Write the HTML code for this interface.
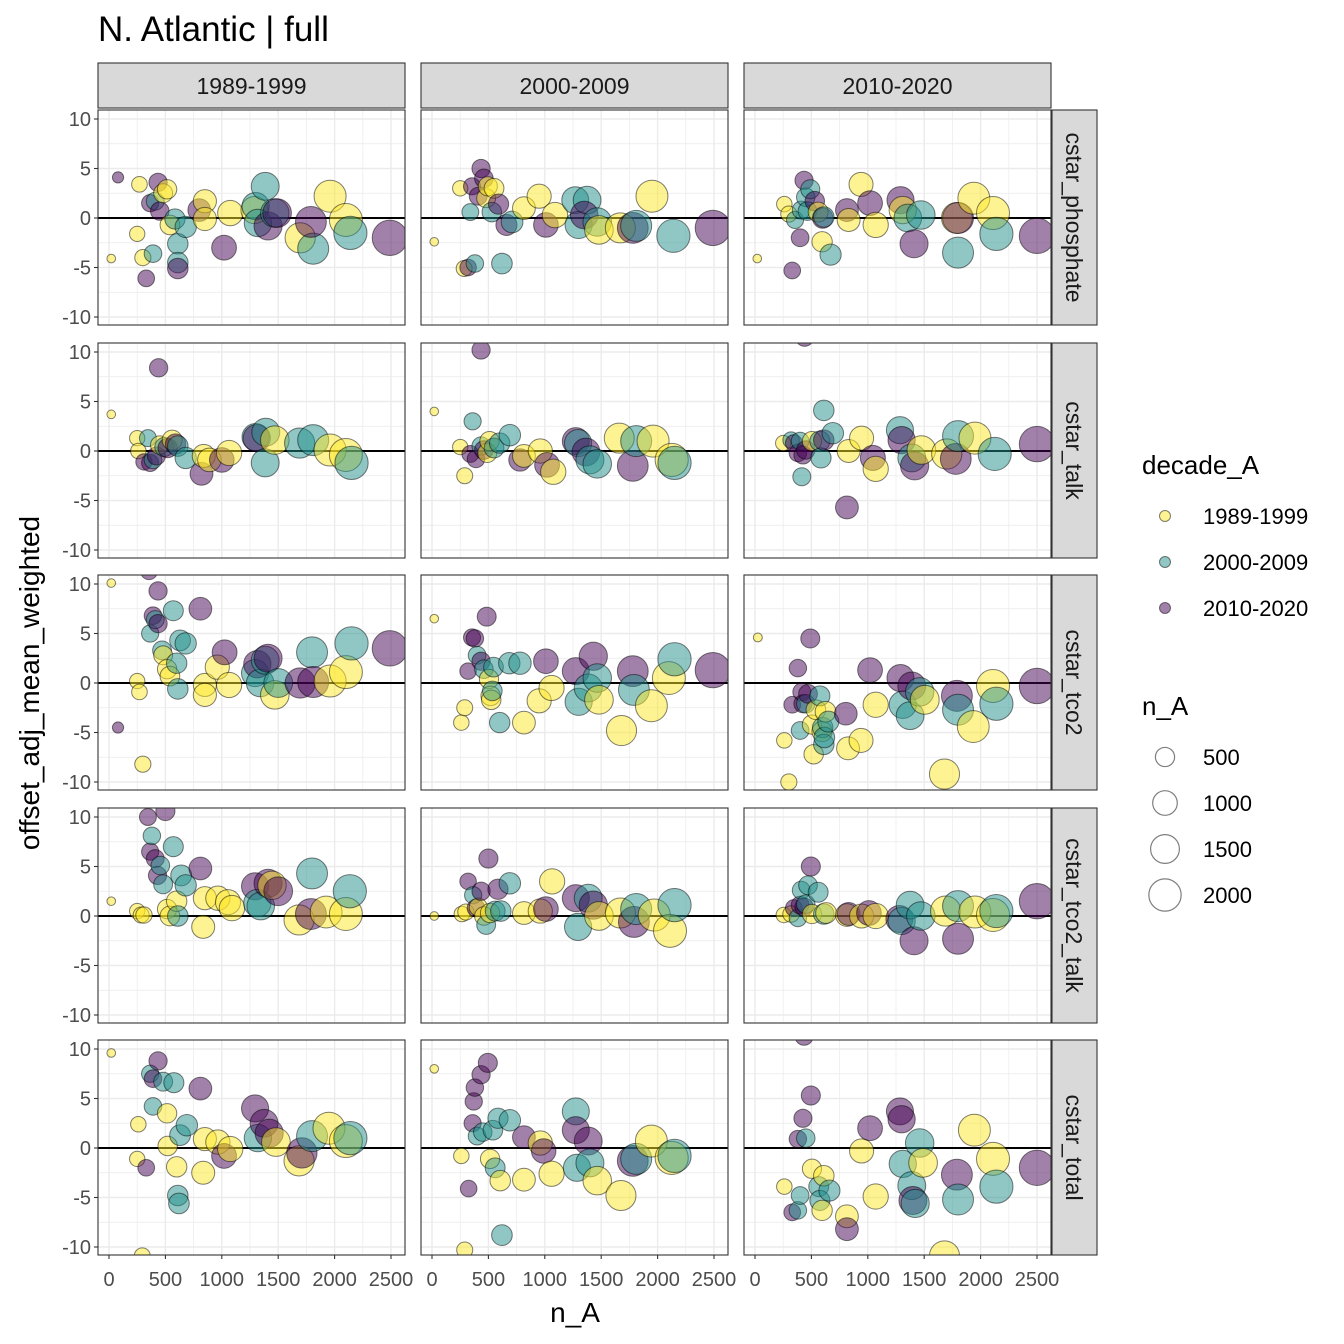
<!DOCTYPE html>
<html><head><meta charset="utf-8">
<style>
body{margin:0;background:#fff;}
svg{display:block;font-family:"Liberation Sans",Arial,sans-serif;}
</style></head>
<body>
<svg id="chart" width="1344" height="1344" viewBox="0 0 1344 1344" xmlns="http://www.w3.org/2000/svg">
<text x="98" y="41" font-size="35" fill="#000">N. Atlantic | full</text>
<text transform="translate(39,683) rotate(-90)" text-anchor="middle" font-size="28" fill="#000">offset_adj_mean_weighted</text>
<text x="575" y="1322" text-anchor="middle" font-size="28" fill="#000">n_A</text>
<g id="panels"></g>
<g id="legend">
<text x="1142" y="474" font-size="26" fill="#000">decade_A</text>
<text x="1142" y="715" font-size="26" fill="#000">n_A</text>
</g>
</svg>
<script>
const decades = ["1989-1999","2000-2009","2010-2020"];
const colors = ["#FDE725","#21908C","#440154"];
const colLabels = ["1989-1999","2000-2009","2010-2020"];
const rowLabels = ["cstar_phosphate","cstar_talk","cstar_tco2","cstar_tco2_talk","cstar_total"];
const xTicks = [0,500,1000,1500,2000,2500];
const yTicks = [-10,-5,0,5,10];
const sizeLegend = [500,1000,1500,2000];

const p11=[[20,-4.1,0],[80,4.1,2],[250,-1.6,0],[270,3.4,0],[300,-4,0],[330,-6.1,2],[365,1.5,2],[390,-3.6,1],[410,1.7,1],[435,3.6,2],[450,0.7,2],[480,2.5,0],[515,2.9,0],[540,-0.7,0],[585,-0.1,1],[610,-2.6,1],[610,-4.5,1],[610,-5.1,2],[680,-0.9,1],[800,0.8,2],[850,1.7,0],[850,-0.1,0],[1020,-3,2],[1075,0.5,0],[1290,0.8,0],[1300,1.2,1],[1320,-0.5,1],[1385,3.2,1],[1410,-0.8,2],[1470,0.5,1],[1490,0.5,2],[1695,-2,0],[1810,-3.1,1],[1790,-0.4,2],[1960,2.2,0],[2100,-0.2,0],[2140,-1.5,1],[2490,-2,2]];
const p12=[[20,-2.4,0],[250,3,0],[285,-5.1,0],[320,-5,2],[380,-4.6,1],[355,3.2,2],[340,0.6,1],[410,2.2,2],[435,5,2],[460,4,2],[480,2,0],[495,3.2,0],[530,0.6,1],[550,3,0],[590,1.4,2],[620,-4.6,1],[660,-0.7,2],[710,-0.4,1],[815,1,0],[950,2.2,0],[1010,-0.7,2],[1090,0.3,0],[1270,1.8,1],[1300,-0.7,1],[1375,1.8,1],[1350,0.3,2],[1465,-0.4,1],[1480,-1.2,0],[1670,-1,0],[1780,-1,2],[1810,-0.8,1],[1950,2.2,0],[2140,-1.8,1],[2490,-1,2]];
const p13=[[20,-4.1,0],[260,1.4,0],[300,0.4,0],[330,-5.3,2],[355,-0.2,1],[400,-2,2],[410,0.8,1],[435,3.8,2],[450,2.1,1],[465,0.7,1],[490,2.9,1],[530,1.7,2],[560,0.6,0],[600,0,2],[610,0.1,1],[595,-2.4,0],[670,-3.7,1],[815,0.8,2],[830,-0.2,0],[940,3.4,0],[1020,1.5,2],[1070,-0.7,0],[1290,1.8,2],[1310,0.8,0],[1355,0,1],[1410,-2.6,2],[1470,0.3,1],[1790,0,0],[1800,0,2],[1800,-3.5,1],[1940,2,0],[2110,0.5,0],[2140,-1.6,1],[2500,-1.8,2]];
const p21=[[20,3.7,0],[250,1.3,0],[260,0,0],[310,-1.1,2],[345,1.3,1],[365,-1.2,2],[390,-0.9,1],[420,-0.5,2],[440,8.4,2],[450,0.6,0],[490,0.4,1],[520,0.3,2],[560,1.1,0],[590,0.7,2],[610,0.5,1],[680,-0.7,1],[820,-2.3,2],[840,-0.5,0],[890,-0.9,0],[1000,-0.9,2],[1065,-0.2,0],[1300,1.4,1],[1310,1.3,2],[1385,-1.2,1],[1390,1.9,1],[1470,1.1,0],[1690,0.8,1],[1810,1.1,1],[1960,0.1,0],[2100,-0.4,0],[2150,-1.2,1]];
const p22=[[20,4,0],[250,0.4,0],[290,-2.5,0],[340,-0.3,2],[360,3,1],[390,-0.8,2],[435,10.2,2],[435,0.5,1],[460,0.1,2],[490,-0.2,0],[510,1,0],[550,0.3,1],[600,0.8,1],[690,1.6,1],[780,-0.9,2],[815,-0.5,0],[960,0,0],[1020,-1.4,2],[1075,-2.1,0],[1275,1,2],[1295,0.8,1],[1365,-0.1,2],[1400,-0.9,1],[1465,-1.3,1],[1660,1.3,0],[1780,-1.5,2],[1810,1,1],[1960,1,0],[2125,-0.9,0],[2150,-1.2,1]];
const p23=[[250,0.8,0],[320,1.1,1],[345,0.8,2],[380,-0.2,2],[400,1,1],[415,-2.6,1],[425,-0.4,2],[440,11.5,2],[450,0.1,2],[505,1,0],[575,1,1],[585,-0.7,1],[610,4.1,1],[610,1.1,2],[690,1.8,1],[815,-5.7,2],[830,0,0],[945,1.3,0],[1045,-0.7,2],[1070,-1.8,0],[1285,2.1,1],[1300,1.1,2],[1390,-0.7,1],[1415,-1.5,2],[1475,0.1,0],[1700,-0.3,0],[1780,-0.8,2],[1800,1.5,1],[1950,1.3,0],[2125,-0.3,1],[2500,0.7,2]];
const p31=[[20,10.1,0],[80,-4.5,2],[250,0.2,0],[270,-0.9,0],[300,-8.2,0],[355,11.3,2],[365,5,1],[390,6.8,2],[410,6.4,1],[435,9.3,2],[435,6,2],[470,3.3,1],[480,2.8,0],[515,1.4,0],[540,0.7,0],[570,7.3,1],[600,2,1],[610,-0.6,1],[630,4.3,1],[680,4,1],[810,7.5,2],[850,-0.2,0],[850,-1.2,0],[960,1.6,0],[1025,3.1,2],[1065,-0.2,0],[1295,1,1],[1315,1.9,2],[1340,0,1],[1385,2.3,1],[1410,2.5,2],[1470,-1.2,0],[1500,0,1],[1695,0,2],[1800,3.1,1],[1810,0.1,2],[1960,0.2,0],[2100,1.1,0],[2150,4,1],[2490,3.5,2]];
const p32=[[20,6.5,0],[260,-4,0],[290,-2.5,0],[320,1.2,2],[355,4.6,2],[380,4.5,2],[400,2.8,1],[435,2.2,2],[460,1.4,1],[485,6.7,2],[505,0.4,0],[520,-1.3,0],[525,-1.7,0],[535,-0.8,1],[545,1.6,1],[600,-4,1],[685,2,1],[780,2,1],[815,-4,0],[950,-1.8,0],[1010,2.2,2],[1060,-0.5,0],[1275,1.2,2],[1300,-1.9,1],[1385,-0.5,1],[1430,2.7,2],[1465,0.5,1],[1480,-1.7,0],[1680,-4.8,0],[1780,1.2,2],[1790,-0.7,1],[1945,-2.3,0],[2100,0.5,0],[2150,2.4,1],[2490,1.3,2]];
const p33=[[25,4.6,0],[260,-5.8,0],[300,-10,0],[330,-2.2,2],[380,1.5,2],[400,-4.8,1],[415,-0.9,2],[425,-2.1,2],[450,-2.1,1],[470,-1.1,2],[490,4.5,2],[505,-4.2,0],[520,-7.2,0],[540,-2.7,0],[575,-1.3,1],[595,-4.9,0],[600,-4.5,1],[610,-6.2,1],[615,-5.5,1],[625,-2.9,0],[650,-3.9,1],[805,-3.1,2],[825,-6.6,0],[940,-5.8,0],[1020,1.3,2],[1070,-2.2,0],[1290,0.5,2],[1310,-2.2,1],[1375,-3.3,1],[1390,-0.3,2],[1460,-0.9,1],[1505,-1.7,0],[1680,-9.2,0],[1790,-1.3,2],[1800,-2.7,1],[1935,-4.4,0],[2110,-0.3,0],[2140,-2.1,1],[2500,-0.3,2]];
const p41=[[20,1.5,0],[250,0.5,0],[285,0.1,0],[310,0.1,0],[345,10,2],[365,6.5,2],[380,8.1,1],[410,5.8,2],[430,4.1,2],[455,5.1,1],[480,3.2,1],[500,10.6,2],[515,0.7,0],[540,0,0],[570,7,1],[600,1.5,0],[610,0,1],[640,4.1,1],[680,3.1,1],[810,4.8,2],[835,-1.1,0],[850,1.8,0],[965,1.8,0],[1055,1.4,0],[1090,0.8,0],[1295,3,2],[1315,1.3,1],[1345,1,1],[1410,3.3,2],[1445,3.1,0],[1500,2.5,2],[1685,-0.4,0],[1800,4.3,1],[1790,0.2,2],[1925,0.4,0],[2100,0.2,0],[2135,2.5,1]];
const p42=[[20,0,0],[265,0.2,0],[300,0.4,0],[320,3.5,2],[365,2.1,1],[390,0.8,2],[410,0.9,0],[435,2.5,2],[460,0,0],[480,-0.9,1],[500,5.8,2],[515,0.3,0],[560,0.5,1],[585,2.7,2],[610,0.5,1],[690,3.3,1],[815,0.3,0],[960,0.5,0],[1010,0.7,2],[1065,3.5,0],[1275,1.8,2],[1295,-1.1,1],[1385,1.8,1],[1430,1.1,2],[1480,0,0],[1670,0.3,0],[1790,-0.6,2],[1810,0.7,1],[1970,0.1,0],[2110,-1.5,0],[2150,1.1,1]];
const p43=[[255,0.1,0],[320,0.2,0],[345,0.8,2],[380,-0.2,1],[400,1.1,2],[410,2.6,1],[435,0.9,2],[450,1.2,1],[470,3.1,1],[495,5,2],[505,0.2,0],[560,2.4,1],[610,0.2,1],[630,0.3,0],[815,0.1,0],[830,0.2,2],[945,0,0],[1010,0.3,2],[1070,0,0],[1280,-0.3,2],[1300,-0.5,1],[1375,1.1,1],[1410,-2.5,2],[1470,0,1],[1690,0.5,0],[1800,-2.3,2],[1800,1,1],[1950,0.4,0],[2110,0.1,0],[2140,0.5,1],[2500,1.5,2]];
const p51=[[20,9.6,0],[250,-1.1,0],[260,2.4,0],[295,-10.9,0],[330,-2,2],[365,7.5,1],[390,4.2,1],[390,7,2],[435,8.8,2],[480,6.7,1],[515,3.5,0],[520,0.2,0],[575,6.6,1],[600,-1.9,0],[610,-4.8,1],[620,-5.6,1],[630,1.3,1],[690,2.3,1],[810,6,2],[850,0.9,0],[835,-2.5,0],[965,0.6,0],[1020,-0.8,2],[1075,-0.1,0],[1295,4,2],[1320,1,1],[1375,2.5,2],[1420,1.5,2],[1480,0.6,0],[1685,-1.3,0],[1710,-0.5,2],[1800,1.2,1],[1950,2,0],[2100,0.7,0],[2140,1,1]];
const p52=[[20,8,0],[260,-0.8,0],[290,-10.3,0],[325,-4.1,2],[360,2.5,2],[370,4.7,2],[380,6.1,2],[400,1.2,1],[435,7.4,2],[450,1.6,1],[495,8.6,2],[515,-1.1,0],[540,1.8,1],[560,-2,1],[585,3,1],[605,-3.3,0],[620,-8.8,1],[690,2.8,1],[815,1.1,2],[815,-3.2,0],[960,0.5,0],[990,-0.3,2],[1060,-2.6,0],[1275,3.7,1],[1285,-2,1],[1275,1.8,2],[1385,0.7,2],[1400,-1.5,1],[1465,-3.3,0],[1675,-4.8,0],[1780,-1.3,2],[1810,-1.1,1],[1945,0.7,0],[2125,-1,0],[2150,-0.8,1]];
const p53=[[260,-3.9,0],[330,-6.5,2],[380,-6.3,1],[380,0.9,2],[400,-4.8,1],[425,3,2],[435,11.3,2],[450,1,1],[495,5.3,2],[505,-2.1,0],[565,-3.9,1],[575,-5.3,1],[595,-6.3,0],[610,-2.8,0],[660,-4.3,1],[815,-6.9,0],[815,-8.2,2],[945,-0.3,0],[1020,2,2],[1070,-4.9,0],[1285,3.7,2],[1300,2.9,2],[1310,-1.6,1],[1390,-3.8,1],[1400,-5.3,2],[1420,-5.6,1],[1460,0.5,1],[1490,-1.5,0],[1680,-10.9,0],[1790,-2.7,2],[1800,-5.2,1],[1945,1.8,0],[2110,-1.1,0],[2140,-3.9,1],[2500,-2,2]];
const panelData=[[p11,p12,p13],[p21,p22,p23],[p31,p32,p33],[p41,p42,p43],[p51,p52,p53]];

const NS="http://www.w3.org/2000/svg";
const colX=[98,421,744], panelW=307;
const rowY=[110,343,575,808,1040], panelH=215;
function xScale(c,n){return colX[c]+11+n*282/2500;}
function yScale(r,v){return rowY[r]+108-v*9.9;}
function rScale(n){return 3+15*Math.sqrt(n/2600);}
function mk(tag,attrs,parent){const e=document.createElementNS(NS,tag);for(const k in attrs)e.setAttribute(k,attrs[k]);parent.appendChild(e);return e;}
const root=document.getElementById('panels');
const defs=mk('defs',{},root);

for(let c=0;c<3;c++){
  const sg=mk('g',{},root);
  
  
  mk('rect',{x:colX[c],y:63,width:panelW,height:45,fill:'#D9D9D9',stroke:'#333',"stroke-width":1.1},sg);
  const t=mk('text',{x:colX[c]+panelW/2,y:94,"text-anchor":"middle","font-size":23,fill:'#1A1A1A'},sg);t.textContent=colLabels[c];
}
for(let r=0;r<5;r++){
  const sg=mk('g',{},root);
  
  
  mk('rect',{x:1052,y:rowY[r],width:45,height:panelH,fill:'#D9D9D9',stroke:'#333',"stroke-width":1.1},sg);
  const t=mk('text',{transform:`translate(1066,${rowY[r]+panelH/2}) rotate(90)`,"text-anchor":"middle","font-size":23,fill:'#1A1A1A'},sg);t.textContent=rowLabels[r];
}

for(let r=0;r<5;r++){
  for(let c=0;c<3;c++){
    const g=mk('g',{},root);
    
    
    const id='clip'+r+c;
    const cp=mk('clipPath',{id:id},defs);
    mk('rect',{x:colX[c],y:rowY[r],width:panelW,height:panelH},cp);
    mk('rect',{x:colX[c],y:rowY[r],width:panelW,height:panelH,fill:'#fff'},g);
    const grid=mk('g',{"clip-path":`url(#${id})`},g);
    for(let v=-12.5;v<=12.5;v+=2.5){const y=yScale(r,v);const major=(v%5===0);
      mk('line',{x1:colX[c],x2:colX[c]+panelW,y1:y,y2:y,stroke:'#EBEBEB',"stroke-width":major?1.4:0.7},grid);}
    for(let n=0;n<=2750;n+=250){const x=xScale(c,n);const major=(n%500===0);
      mk('line',{x1:x,x2:x,y1:rowY[r],y2:rowY[r]+panelH,stroke:'#EBEBEB',"stroke-width":major?1.4:0.7},grid);}
    const z=yScale(r,0);
    const zl=mk('line',{x1:colX[c],x2:colX[c]+panelW,y1:z,y2:z,stroke:'#000',"stroke-width":2},g);
    
    
    const pg=mk('g',{"clip-path":`url(#${id})`},g);
    for(const p of panelData[r][c]){
      const ci=mk('circle',{cx:xScale(c,p[0]),cy:yScale(r,p[1]),r:rScale(p[0]),fill:colors[p[2]],"fill-opacity":0.5,stroke:'#000',"stroke-opacity":0.5,"stroke-width":1},pg);
      
      
    }
    mk('rect',{x:colX[c],y:rowY[r],width:panelW,height:panelH,fill:'none',stroke:'#333',"stroke-width":1.1},g);
    if(c===0){
      for(const v of yTicks){const y=yScale(r,v);
        mk('line',{x1:colX[c]-4,x2:colX[c],y1:y,y2:y,stroke:'#333',"stroke-width":1.1},g);
        const t=mk('text',{x:colX[c]-7,y:y+7,"text-anchor":"end","font-size":20,fill:'#4D4D4D'},g);t.textContent=v;
        
        }
    }
    if(r===4){
      for(const n of xTicks){const x=xScale(c,n);
        mk('line',{x1:x,x2:x,y1:rowY[r]+panelH,y2:rowY[r]+panelH+4,stroke:'#333',"stroke-width":1.1},g);
        const t=mk('text',{x:x,y:1286,"text-anchor":"middle","font-size":20,fill:'#4D4D4D'},g);t.textContent=n;
        
        }
    }
  }
}

const lg=document.getElementById('legend');
decades.forEach((d,i)=>{
  const y=516+i*46;
  const g=mk('g',{},lg);
  
  
  mk('circle',{cx:1165,cy:y,r:5.5,fill:colors[i],"fill-opacity":0.5,stroke:'#000',"stroke-opacity":0.5},g);
  const t=mk('text',{x:1203,y:y+8,"font-size":22,fill:'#000'},g);t.textContent=d;
});
sizeLegend.forEach((n,i)=>{
  const y=757+i*46;
  const g=mk('g',{},lg);
  
  
  mk('circle',{cx:1165,cy:y,r:rScale(n),fill:'none',stroke:'#000',"stroke-opacity":0.5,"stroke-width":1.2},g);
  const t=mk('text',{x:1203,y:y+8,"font-size":22,fill:'#000'},g);t.textContent=n;
});
</script>
</body></html>
